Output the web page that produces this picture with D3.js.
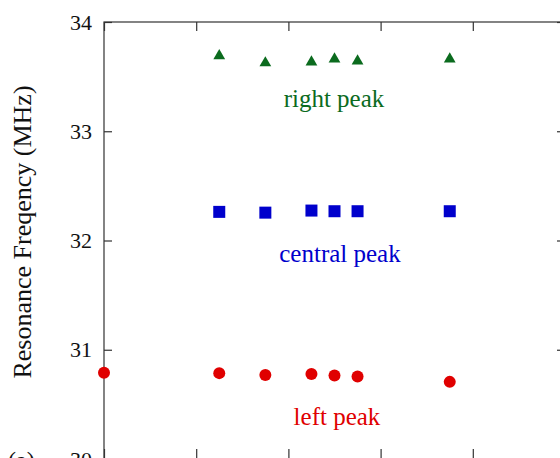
<!DOCTYPE html>
<html>
<head>
    <meta charset="utf-8" />
    <script src="https://d3js.org/d3.v7.min.js"></script>
    <style>
        body { margin: 0; background: #fff; }
        text { font-family: "Liberation Serif", "Times New Roman", serif; }
    </style>
</head>
<body>
    <script type="text/javascript">
        // x positions (arbitrary units, no labels shown in the figure)
        var xTicks = [0, 1, 2, 3, 4, 5];
        var yTicks = [30, 31, 32, 33, 34];

        var leftX = [0, 1.25, 1.75, 2.25, 2.5, 2.75, 3.75];
        var leftVals = [30.79, 30.786, 30.768, 30.777, 30.764, 30.755, 30.706];

        var centralX = [1.25, 1.75, 2.25, 2.5, 2.75, 3.75];
        var centralVals = [32.262, 32.255, 32.274, 32.268, 32.268, 32.268];

        var rightX = [1.25, 1.75, 2.25, 2.5, 2.75, 3.75];
        var rightVals = [33.69, 33.625, 33.634, 33.66, 33.642, 33.66];

        var w = 560,
            h = 458;

        var margin = {top: 22, left: 104};
        var plotW = 461, plotH = 437;

        var svg = d3.select("body")
                    .append("svg")
                    .attr("width", w)
                    .attr("height", h);

        var x = d3.scaleLinear().domain([0, 5]).range([margin.left, margin.left + plotW]);
        var y = d3.scaleLinear().domain([30, 34]).range([margin.top + plotH, margin.top]);

        var axisColor = "#333";

        // frame
        svg.append("rect")
           .attr("x", x(0))
           .attr("y", y(34))
           .attr("width", x(5) - x(0))
           .attr("height", y(30) - y(34))
           .attr("fill", "none")
           .attr("stroke", axisColor)
           .attr("stroke-width", 1.2);

        // axes with inward ticks
        var yAxisL = d3.axisLeft(y).tickValues(yTicks).tickFormat(d3.format("d"))
                       .tickSizeInner(-8).tickSizeOuter(0).tickPadding(12);
        var yAxisR = d3.axisRight(y).tickValues(yTicks).tickSizeInner(-8).tickSizeOuter(0).tickFormat("");
        var xAxisT = d3.axisTop(x).tickValues(xTicks).tickSizeInner(-9).tickSizeOuter(0).tickFormat("");
        var xAxisB = d3.axisBottom(x).tickValues(xTicks).tickSizeInner(-10).tickSizeOuter(0).tickFormat("");

        var gl = svg.append("g").attr("transform", "translate(" + x(0) + ",0)").call(yAxisL);
        svg.append("g").attr("transform", "translate(" + x(5) + ",0)").call(yAxisR);
        svg.append("g").attr("transform", "translate(0," + y(34) + ")").call(xAxisT);
        svg.append("g").attr("transform", "translate(0," + y(30) + ")").call(xAxisB);

        svg.selectAll(".domain").remove();
        svg.selectAll(".tick line").attr("stroke", axisColor).attr("stroke-width", 1.2);
        gl.attr("font-family", "Liberation Serif").attr("font-size", 22);
        gl.selectAll("text").attr("fill", "#111");

        // y label
        svg.append("text")
           .attr("transform", "translate(31,232) rotate(-90)")
           .attr("text-anchor", "middle")
           .style("font-size", "26px")
           .attr("fill", "#111")
           .text("Resonance Freqency (MHz)");

        svg.append("text")
           .attr("x", 8)
           .attr("y", 468)
           .style("font-size", "24px")
           .attr("fill", "#111")
           .text("(a)");

        var red = "#e00000", blue = "#0000cc", green = "#0b6b1e";

        // left peak circles
        svg.selectAll("circle.left")
           .data(leftVals)
           .enter()
           .append("circle")
           .attr("class", "left")
           .attr("cx", function(d, i) { return x(leftX[i]); })
           .attr("cy", function(d) { return y(d); })
           .attr("r", 6)
           .attr("fill", red);

        // central peak squares
        svg.selectAll("rect.central")
           .data(centralVals)
           .enter()
           .append("rect")
           .attr("class", "central")
           .attr("x", function(d, i) { return x(centralX[i]) - 6; })
           .attr("y", function(d) { return y(d) - 6; })
           .attr("width", 12)
           .attr("height", 12)
           .attr("fill", blue);

        // right peak triangles
        var tri = d3.symbol().type(d3.symbolTriangle).size(60);
        svg.selectAll("path.right")
           .data(rightVals)
           .enter()
           .append("path")
           .attr("class", "right")
           .attr("d", tri)
           .attr("transform", function(d, i) { return "translate(" + x(rightX[i]) + "," + y(d) + ")"; })
           .attr("fill", green);

        // series labels
        svg.append("text")
           .attr("x", 334).attr("y", 107)
           .attr("text-anchor", "middle")
           .style("font-size", "25px")
           .attr("fill", green)
           .text("right peak");

        svg.append("text")
           .attr("x", 340).attr("y", 262)
           .attr("text-anchor", "middle")
           .style("font-size", "25px")
           .attr("fill", blue)
           .text("central peak");

        svg.append("text")
           .attr("x", 337).attr("y", 425)
           .attr("text-anchor", "middle")
           .style("font-size", "25px")
           .attr("fill", red)
           .text("left peak");
    </script>
</body>
</html>
